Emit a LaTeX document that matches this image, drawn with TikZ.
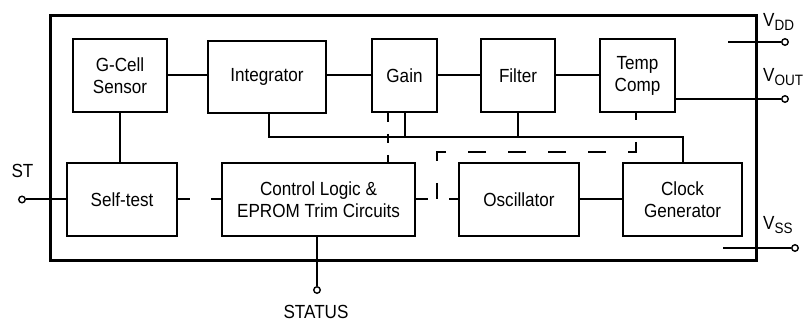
\documentclass[tikz,border=0pt]{standalone}
\usepackage{fontspec}
\setmainfont{Liberation Sans}[FakeStretch=0.9]
\newcommand{\mysubs}[1]{\raisebox{-4pt}{\fontsize{15}{15}\selectfont #1}}
\begin{document}
\begin{tikzpicture}[x=1pt,y=-1pt,
  font=\fontsize{19}{22}\selectfont,
  blk/.style={draw, line width=2pt, inner sep=0pt, align=center, minimum height=73pt},
  conn/.style={line width=2pt},
  term/.style={circle, draw, line width=1.4pt, minimum size=6.5pt, inner sep=0pt, fill=white},
  lbl/.style={inner sep=0pt}]
\useasboundingbox (0,0) rectangle (807,323);
% chip outline
\node[draw, line width=3pt, minimum width=706pt, minimum height=245pt, inner sep=0pt] (chip) at (403,138.5) {};
% blocks
\node[blk, minimum width=94pt]  (gcell) at (120,75.5) {G-Cell\\Sensor};
\node[blk, minimum width=118pt, minimum height=72pt] (integ) at (267,77) {Integrator};
\node[blk, minimum width=65pt]  (gain)  at (404.5,75.5) {Gain};
\node[blk, minimum width=74pt]  (filt)  at (518,75.5) {Filter};
\node[blk, minimum width=75pt]  (temp)  at (637.5,75.5) {Temp\\Comp};
\node[blk, minimum width=110pt] (self)  at (122,199.5) {Self-test};
\node[blk, minimum width=193pt] (ctrl)  at (318.5,199.5) {Control Logic \&\\EPROM Trim Circuits};
\node[blk, minimum width=120pt] (osc)   at (519,199.5) {Oscillator};
\node[blk, minimum width=119pt] (clk)   at (682.5,199.5) {Clock\\Generator};
% terminals
\node[term] (stc)   at (22,199.5) {};
\node[term] (statc) at (317,290) {};
\node[term] (vddc)  at (785,42) {};
\node[term] (voutc) at (785,99) {};
\node[term] (vssc)  at (795,248) {};
\node[lbl, anchor=base] (stl) at (22.5,178) {ST};
\node[lbl, anchor=base] (statl) at (316,318.5) {STATUS};
\node[lbl, anchor=base west] (vddl) at (763,27) {V\mysubs{DD}};
\node[lbl, anchor=base west] (voutl) at (763,82) {V\mysubs{OUT}};
\node[lbl, anchor=base west] (vssl) at (763,230) {V\mysubs{SS}};
% helper coordinates
\coordinate (vddin) at (728,42);
\coordinate (vssin) at (723,248);
\coordinate (bi) at (269,137);
\coordinate (bg) at (405,137);
\coordinate (bf) at (518,137);
\coordinate (bc) at (683,137);
\coordinate (gd) at (388,0);
\coordinate (td) at (636,152);
\coordinate (od) at (437,152);
% signal chain
\draw[conn] (gcell.east) -- (gcell.east -| integ.west);
\draw[conn] (integ.east |- gain.west) -- (gain.west);
\draw[conn] (gain.east) -- (filt.west);
\draw[conn] (filt.east) -- (temp.west);
\draw[conn] (temp.east |- voutc) -- (voutc.west);
\draw[conn] (vddin) -- (vddc.west);
\draw[conn] (vssin) -- (vssc.west);
\draw[conn] (gcell.south) -- (gcell.south |- self.north);
\draw[conn] (stc.east) -- (self.west);
\draw[conn] (ctrl.south -| statc) -- (statc.north);
\draw[conn] (osc.east) -- (clk.west);
% bus
\draw[conn] (integ.south -| bi) -- (bi) -- (bc) -- (clk.north -| bc);
\draw[conn] (gain.south -| bg) -- (bg);
\draw[conn] (filt.south -| bf) -- (bf);
% dashed connections
\draw[conn, dash pattern=on 12pt off 21pt] (self.east) -- (ctrl.west);
\draw[conn, dash pattern=on 12pt off 21pt] (ctrl.east) -- (osc.west);
\draw[conn, dash pattern=on 9pt off 12pt] (gain.south -| gd) -- (ctrl.north -| gd);
\draw[conn, dash pattern=on 18pt off 22pt, dash phase=11pt] (temp.south -| td) -- (td) -- (od) -- (od |- osc.west);
\end{tikzpicture}
\end{document}
